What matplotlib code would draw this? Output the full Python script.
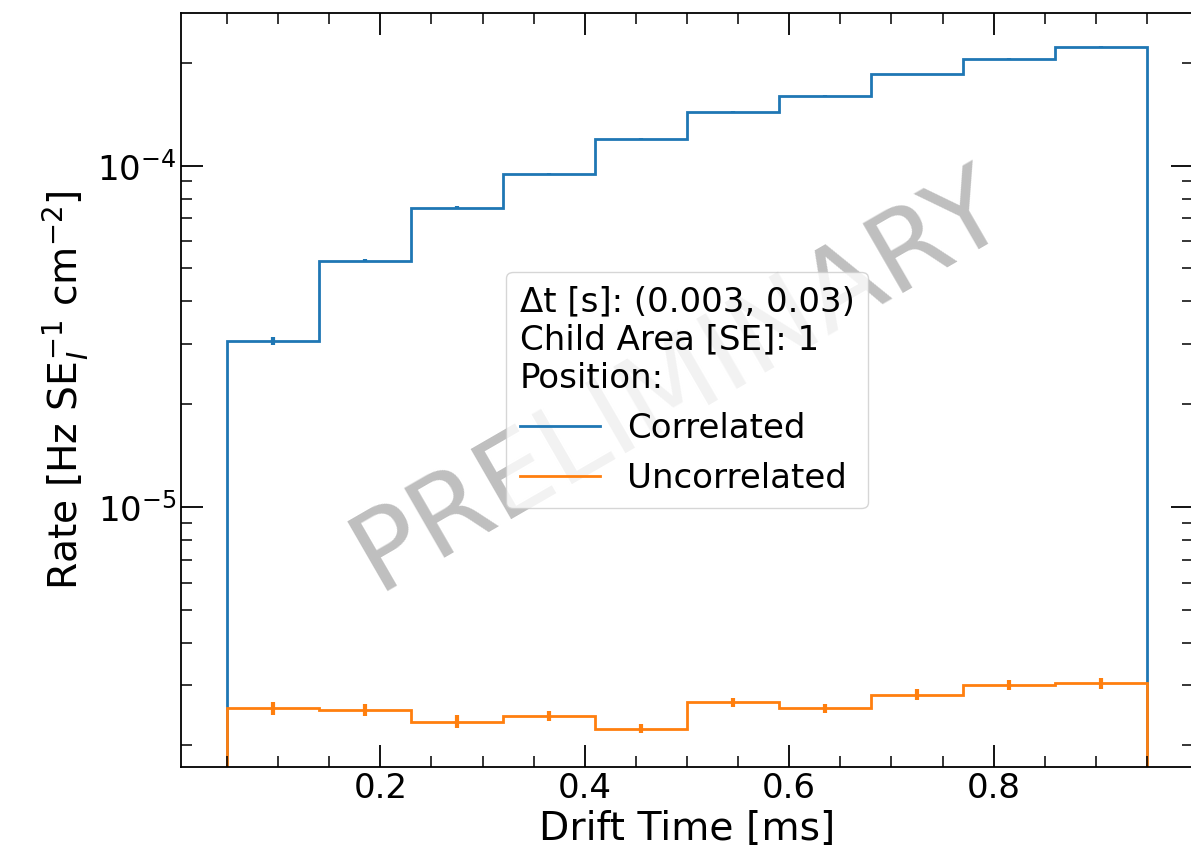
import matplotlib

matplotlib.use("Agg")
import matplotlib.pyplot as plt
import numpy as np

# drift-time binning (ms)
bin_edges = [0.05, 0.14, 0.23, 0.32, 0.41, 0.50, 0.59, 0.68, 0.77, 0.86, 0.95]

# rates in Hz / SE_I / cm^2
corr_rate = [3.07e-5, 5.26e-5, 7.53e-5, 9.47e-5, 1.20e-4, 1.44e-4, 1.60e-4, 1.85e-4, 2.06e-4, 2.23e-4]
corr_err = [0.08e-5, 0.05e-5, 0.06e-5, 0.07e-5, 0.08e-5, 0.09e-5, 0.10e-5, 0.11e-5, 0.12e-5, 0.13e-5]
uncorr_rate = [2.57e-6, 2.54e-6, 2.35e-6, 2.44e-6, 2.24e-6, 2.68e-6, 2.57e-6, 2.82e-6, 3.01e-6, 3.04e-6]
uncorr_err = [0.12e-6, 0.10e-6, 0.10e-6, 0.08e-6, 0.07e-6, 0.08e-6, 0.08e-6, 0.11e-6, 0.10e-6, 0.11e-6]

legend_title = "Δt [s]: (0.003, 0.03)\nChild Area [SE]: 1\nPosition:"

C_CORR = "#1f77b4"
C_UNCORR = "#ff7f0e"

edges = np.array(bin_edges)
centers = 0.5 * (edges[:-1] + edges[1:])

fig = plt.figure(figsize=(11.91, 8.56), dpi=100)
ax = fig.add_axes([0.152, 0.104, 0.8497, 0.8808])

ax.stairs(corr_rate, edges, baseline=0, color=C_CORR, lw=2, label="Correlated")
ax.errorbar(centers, corr_rate, yerr=corr_err, fmt="none", ecolor=C_CORR, elinewidth=3)
ax.stairs(uncorr_rate, edges, baseline=0, color=C_UNCORR, lw=2, label="Uncorrelated")
ax.errorbar(centers, uncorr_rate, yerr=uncorr_err, fmt="none", ecolor=C_UNCORR, elinewidth=3)

ax.set_yscale("log")
ax.set_xlim(0.005, 0.995)
ax.set_ylim(1.73e-6, 2.8e-4)
ax.xaxis.set_minor_locator(matplotlib.ticker.MultipleLocator(0.05))

ax.tick_params(which="both", direction="in", top=True, right=True, labelsize=24.5)
ax.tick_params(which="major", length=16, width=1.3)
ax.tick_params(which="minor", length=8, width=1.1)
for s in ax.spines.values():
    s.set_linewidth(1.3)

ax.set_xlabel("Drift Time [ms]", fontsize=28.3)
ax.set_ylabel(r"Rate [Hz SE$_I^{-1}$ cm$^{-2}$]", fontsize=28.3)

ax.text(0.492, 0.512, "PRELIMINARY", transform=ax.transAxes, fontsize=80,
        color="gray", alpha=0.5, rotation=30, ha="center", va="center")

leg = ax.legend(loc="center", fontsize=24.5, title=legend_title, title_fontsize=24.5,
                alignment="left", handlelength=2.35)

fig.savefig("out.png", dpi=100)
